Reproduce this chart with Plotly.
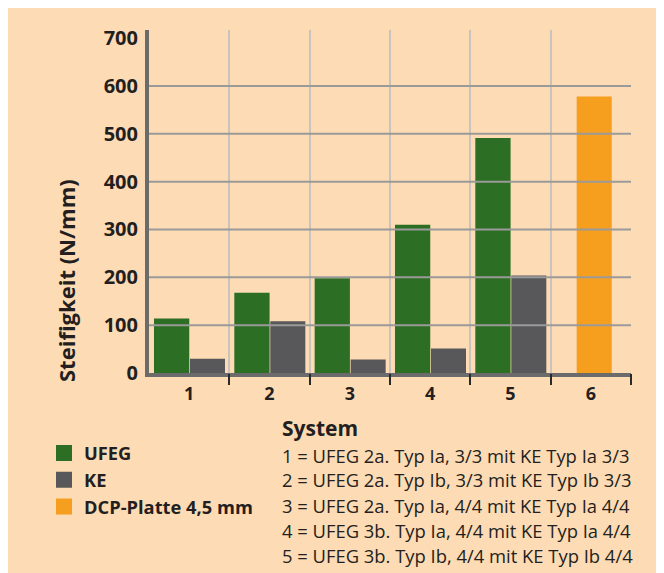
import plotly.graph_objects as go

# ---------------- data ----------------
categories = [1, 2, 3, 4, 5, 6]
tick_labels = ["1", "2", "3", "4", "5", "6"]
ufeg_x = [1, 2, 3, 4, 5]
ufeg = [114, 168, 198, 310, 491]
ke_x = [1, 2, 3, 4, 5]
ke = [30, 108, 28, 51, 204]
dcp_x = [6]
dcp = [578]
y_ticks = [0, 100, 200, 300, 400, 500, 600, 700]
y_grid = [100, 200, 300, 400, 500, 600]
series_names = ["UFEG", "KE", "DCP-Platte 4,5 mm"]
system_title = "System"
system_labels = [
    "1 = UFEG 2a. Typ Ia, 3/3 mit KE Typ Ia 3/3",
    "2 = UFEG 2a. Typ Ib, 3/3 mit KE Typ Ib 3/3",
    "3 = UFEG 2a. Typ Ia, 4/4 mit KE Typ Ia 4/4",
    "4 = UFEG 3b. Typ Ia, 4/4 mit KE Typ Ia 4/4",
    "5 = UFEG 3b. Typ Ib, 4/4 mit KE Typ Ib 4/4",
]
y_title = "Steifigkeit (N/mm)"

# ---------------- style ----------------
OX, OY = 8, 8            # page body margin
W, H = 656, 565          # figure size (fills window after body margin)
L, R, T, B = 141, 33, 22, 200
PW, PH = W - L - R, H - T - B
BG = "#FDDBB4"
GREEN = "#2C6E23"
GREY = "#58585A"
ORANGE = "#F69E1D"
TXT = "#231F20"
AXIS = "#6B6B6B"
FONT = "Open Sans"


def px2x(px):
    # window pixel -> paper x
    return (px - OX - L) / PW


def py2y(py):
    # window pixel -> paper y
    return (H - B - (py - OY)) / PH


fig = go.Figure()
fig.add_trace(go.Bar(x=ufeg_x, y=ufeg, name=series_names[0], marker=dict(color=GREEN, line=dict(width=0)),
                     offset=-0.438, width=0.439, showlegend=False))
fig.add_trace(go.Bar(x=ke_x, y=ke, name=series_names[1], marker=dict(color=GREY, line=dict(width=0)),
                     offset=0.01, width=0.436, showlegend=False))
fig.add_trace(go.Bar(x=dcp_x, y=dcp, name=series_names[2], marker=dict(color=ORANGE, line=dict(width=0)),
                     offset=-0.176, width=0.436, showlegend=False))
# legend entries (placed on the boundary axis so that it is drawn)
for name, col in zip(series_names, [GREEN, GREY, ORANGE]):
    fig.add_trace(go.Scatter(x=[None], y=[None], mode="markers", name=name, xaxis="x2",
                             marker=dict(symbol="square", size=16, color=col), hoverinfo="skip"))

shapes = []
for v in y_grid:
    shapes.append(dict(type="line", xref="paper", yref="y", x0=0, x1=1, y0=v, y1=v,
                       line=dict(color="#9A9A9A", width=2), layer="above"))

annotations = [
    dict(text=y_title, xref="paper", yref="paper", x=px2x(66), y=py2y(281), textangle=-90,
         showarrow=False, xanchor="center", yanchor="middle",
         font=dict(family=FONT, size=22, color=TXT, weight="bold")),
    dict(text=system_title, xref="paper", yref="paper", x=px2x(280), y=py2y(428),
         showarrow=False, xanchor="left", yanchor="middle",
         font=dict(family=FONT, size=21, color=TXT, weight="bold")),
]
for i, s in enumerate(system_labels):
    annotations.append(dict(text=s, xref="paper", yref="paper", x=px2x(280), y=py2y(455 + 25 * i),
                            showarrow=False, xanchor="left", yanchor="middle",
                            font=dict(family=FONT, size=18.4, color=TXT)))

fig.update_layout(
    width=W, height=H,
    margin=dict(l=L, r=R, t=T, b=B, pad=0),
    paper_bgcolor=BG,
    plot_bgcolor="rgba(0,0,0,0)",
    barmode="overlay",
    font=dict(family=FONT, color=TXT),
    showlegend=True,
    legend=dict(x=px2x(44), y=py2y(434.5), xanchor="left", yanchor="top",
                bgcolor="rgba(0,0,0,0)", borderwidth=0, tracegroupgap=0,
                font=dict(family=FONT, size=18.3, color=TXT, weight="bold")),
    xaxis=dict(range=[0.5, 6.5], tickvals=categories, ticktext=tick_labels, ticks="",
               showgrid=False, zeroline=False, showline=True, linewidth=4, linecolor=AXIS,
               tickfont=dict(family=FONT, size=18, color=TXT, weight="bold"), ticklabelstandoff=1),
    xaxis2=dict(overlaying="x", anchor="y", side="bottom", range=[0.5, 6.5],
                tickvals=[c + 0.5 for c in categories], showticklabels=False,
                showgrid=True, gridcolor="#C9C3BC", gridwidth=1.5, zeroline=False, showline=False,
                ticks="outside", ticklen=11, tickwidth=2, tickcolor="#2A2A2A"),
    yaxis=dict(range=[0, 717], tickvals=y_ticks, ticks="", showgrid=False, zeroline=False,
               showline=True, linewidth=4, linecolor=AXIS,
               tickfont=dict(family=FONT, size=20, color=TXT, weight="bold"), ticklabelstandoff=3),
    shapes=shapes,
    annotations=annotations,
)

fig.write_html("out.html")
